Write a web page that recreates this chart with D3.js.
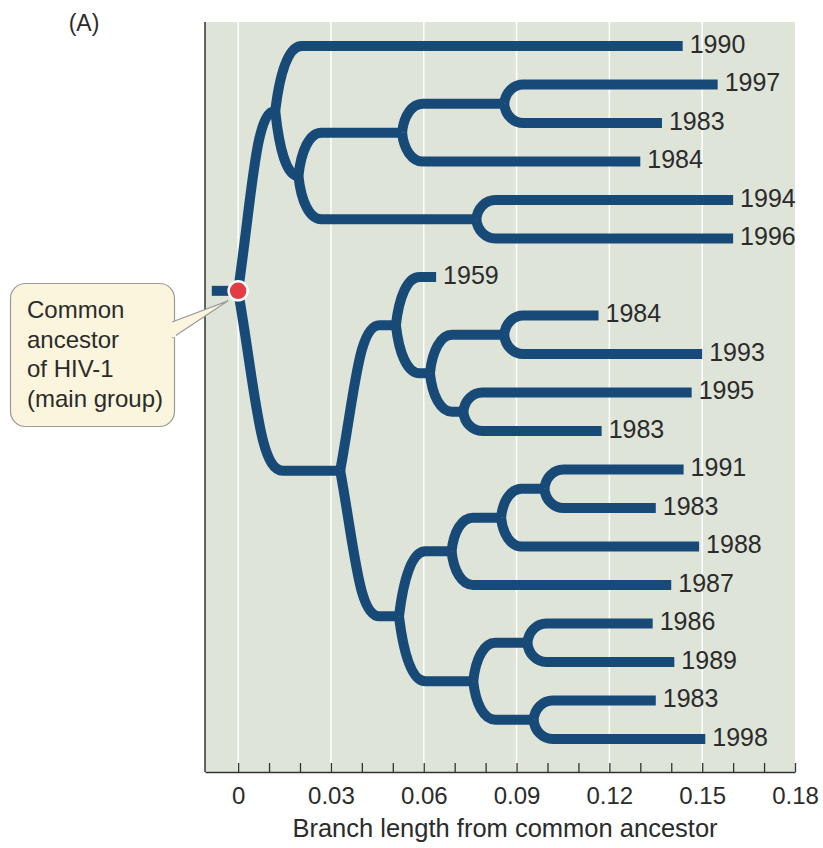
<!DOCTYPE html>
<html>
<head>
<meta charset="utf-8">
<script src="https://cdn.jsdelivr.net/npm/d3@7"></script>
<style>
  body { margin: 0; background: #fff; }
  svg text { font-family: "Liberation Sans", Arial, Helvetica, sans-serif; fill: #2b2b2b; }
</style>
</head>
<body>
<svg id="chart" width="823" height="848"></svg>
<script>
// leaves, top to bottom
const leafYears = ["1990", "1997", "1983", "1984", "1994", "1996", "1959", "1984", "1993", "1995",
                   "1983", "1991", "1983", "1988", "1987", "1986", "1989", "1983", "1998"];
const leafDistance = [0.1437, 0.155, 0.137, 0.130, 0.160, 0.160, 0.064, 0.1165, 0.150, 0.1466,
                      0.1175, 0.144, 0.135, 0.149, 0.140, 0.134, 0.141, 0.135, 0.151];

// internal nodes (distance from common ancestor) and their children ("L3" = leaf index 3)
const cladeIds = ["root", "A", "B", "C", "E", "D", "F", "G", "H", "I", "J", "K", "L", "N", "O", "M", "P", "Q"];
const cladeDistance = [0, 0.012, 0.0195, 0.053, 0.086, 0.077, 0.033, 0.051, 0.062, 0.086, 0.0728,
                       0.052, 0.069, 0.085, 0.099, 0.076, 0.0935, 0.0955];
const cladeChildren = [["A", "F"], ["L0", "B"], ["C", "D"], ["E", "L3"], ["L1", "L2"], ["L4", "L5"],
                       ["G", "K"], ["L6", "H"], ["I", "J"], ["L7", "L8"], ["L9", "L10"],
                       ["L", "M"], ["N", "L14"], ["O", "L13"], ["L11", "L12"],
                       ["P", "Q"], ["L15", "L16"], ["L17", "L18"]];
const rootStub = -0.0085;

const xTicks = d3.range(19).map(i => i / 100);
const xLabelTicks = [0, 0.03, 0.06, 0.09, 0.12, 0.15, 0.18];
const gridTicks = [0, 0.03, 0.06, 0.09, 0.12, 0.15];
const xTitle = "Branch length from common ancestor";
const calloutLines = ["Common", "ancestor", "of HIV-1", "(main group)"];

const branchColor = "#184a78";
const plot = {left: 205, right: 795, top: 22, bottom: 772};

const svg = d3.select("#chart");

const x = d3.scaleLinear().domain([-0.0107, 0.18]).range([plot.left, plot.right]);
const y = d3.scalePoint().domain(d3.range(leafYears.length)).range([46, 739]);

// build hierarchy
function makeNode(id) {
  if (id[0] === "L" && id.length > 1 && !isNaN(+id.slice(1))) {
    const i = +id.slice(1);
    return {name: leafYears[i], dist: leafDistance[i], leaf: i};
  }
  const k = cladeIds.indexOf(id);
  return {name: id, dist: cladeDistance[k], children: cladeChildren[k].map(makeNode)};
}
const root = d3.hierarchy(makeNode("root"));
root.eachAfter(n => {
  n.px = x(n.data.dist);
  n.py = n.children ? d3.mean(n.children, c => c.py) : y(n.data.leaf);
});

// background + grid
svg.append("rect")
  .attr("x", plot.left).attr("y", plot.top)
  .attr("width", plot.right - plot.left).attr("height", plot.bottom - plot.top)
  .attr("fill", "#dfe4d9");

svg.append("g").selectAll("line").data(gridTicks).join("line")
  .attr("x1", d => x(d)).attr("x2", d => x(d))
  .attr("y1", plot.top).attr("y2", plot.bottom)
  .attr("stroke", "#fff").attr("stroke-width", 1.5);

// axis
const axis = d3.axisBottom(x)
  .tickValues(xTicks)
  .tickSize(-9)
  .tickSizeOuter(0)
  .tickPadding(15)
  .tickFormat(d => xLabelTicks.some(v => Math.abs(v - d) < 1e-9) ? (d === 0 ? "0" : d.toFixed(2)) : "");

const axisG = svg.append("g").attr("transform", `translate(0,${plot.bottom})`).call(axis);
axisG.select(".domain").attr("stroke", "#333").attr("stroke-width", 1.5);
axisG.selectAll(".tick line").attr("stroke", "#333").attr("stroke-width", 1.3);
axisG.selectAll(".tick text").style("font-size", "24px").attr("fill", "#2b2b2b")
  .style("font-family", "'Liberation Sans', Arial, sans-serif");

svg.append("line")
  .attr("x1", plot.left).attr("x2", plot.left)
  .attr("y1", plot.top).attr("y2", plot.bottom)
  .attr("stroke", "#333").attr("stroke-width", 1.5);

svg.append("text")
  .attr("x", 505).attr("y", 837)
  .attr("text-anchor", "middle")
  .style("font-size", "25.5px")
  .text(xTitle);

svg.append("text")
  .attr("x", 84).attr("y", 31)
  .attr("text-anchor", "middle")
  .style("font-size", "23px")
  .text("(A)");

// branches
function branchPath(p, c) {
  const xp = p.px, yp = p.py, xc = c.px, yc = c.py;
  const dy = yc - yp;
  const w = Math.min(xc - xp, 16 + 0.16 * Math.abs(dy));
  const lean = 0.4 * Math.min(1, Math.abs(dy) / 150);
  const path = d3.path();
  path.moveTo(xp, yp);
  path.bezierCurveTo(xp + lean * w, yp + 0.58 * dy, xp + 0.48 * w, yc, xp + w, yc);
  path.lineTo(xc, yc);
  return path.toString();
}

const treeG = svg.append("g");
treeG.selectAll("path").data(root.links()).join("path")
  .attr("d", d => branchPath(d.source, d.target))
  .attr("fill", "none")
  .attr("stroke", branchColor)
  .attr("stroke-width", 10);

// stub left of the root
treeG.append("line")
  .attr("x1", x(rootStub)).attr("x2", root.px)
  .attr("y1", root.py).attr("y2", root.py)
  .attr("stroke", branchColor).attr("stroke-width", 10);

// leaf labels
svg.append("g").selectAll("text").data(root.leaves()).join("text")
  .attr("x", d => d.px + 7)
  .attr("y", d => d.py + 6.5)
  .style("font-size", "25px")
  .text(d => d.data.name);

// callout
const callG = svg.append("g");
callG.append("rect")
  .attr("x", 10.5).attr("y", 283.5).attr("width", 164).attr("height", 143)
  .attr("rx", 15).attr("ry", 15)
  .attr("fill", "#faf5dc").attr("stroke", "#9a9a9a").attr("stroke-width", 1.2);
callG.append("path")
  .attr("d", `M172,322 L${root.px - 10},${root.py + 10} L172,338`)
  .attr("fill", "#faf5dc").attr("stroke", "#9a9a9a").attr("stroke-width", 1.2);
callG.append("rect")
  .attr("x", 170).attr("y", 322.8).attr("width", 6).attr("height", 14.4)
  .attr("fill", "#faf5dc");
callG.append("text").selectAll("tspan").data(calloutLines).join("tspan")
  .attr("x", 27)
  .attr("y", (d, i) => 318 + i * 29.5)
  .style("font-size", "24px")
  .text(d => d);

// common ancestor dot
svg.append("circle")
  .attr("cx", root.px).attr("cy", root.py).attr("r", 9.5)
  .attr("fill", "#e23c46").attr("stroke", "#fff").attr("stroke-width", 2.5);
</script>
</body>
</html>
